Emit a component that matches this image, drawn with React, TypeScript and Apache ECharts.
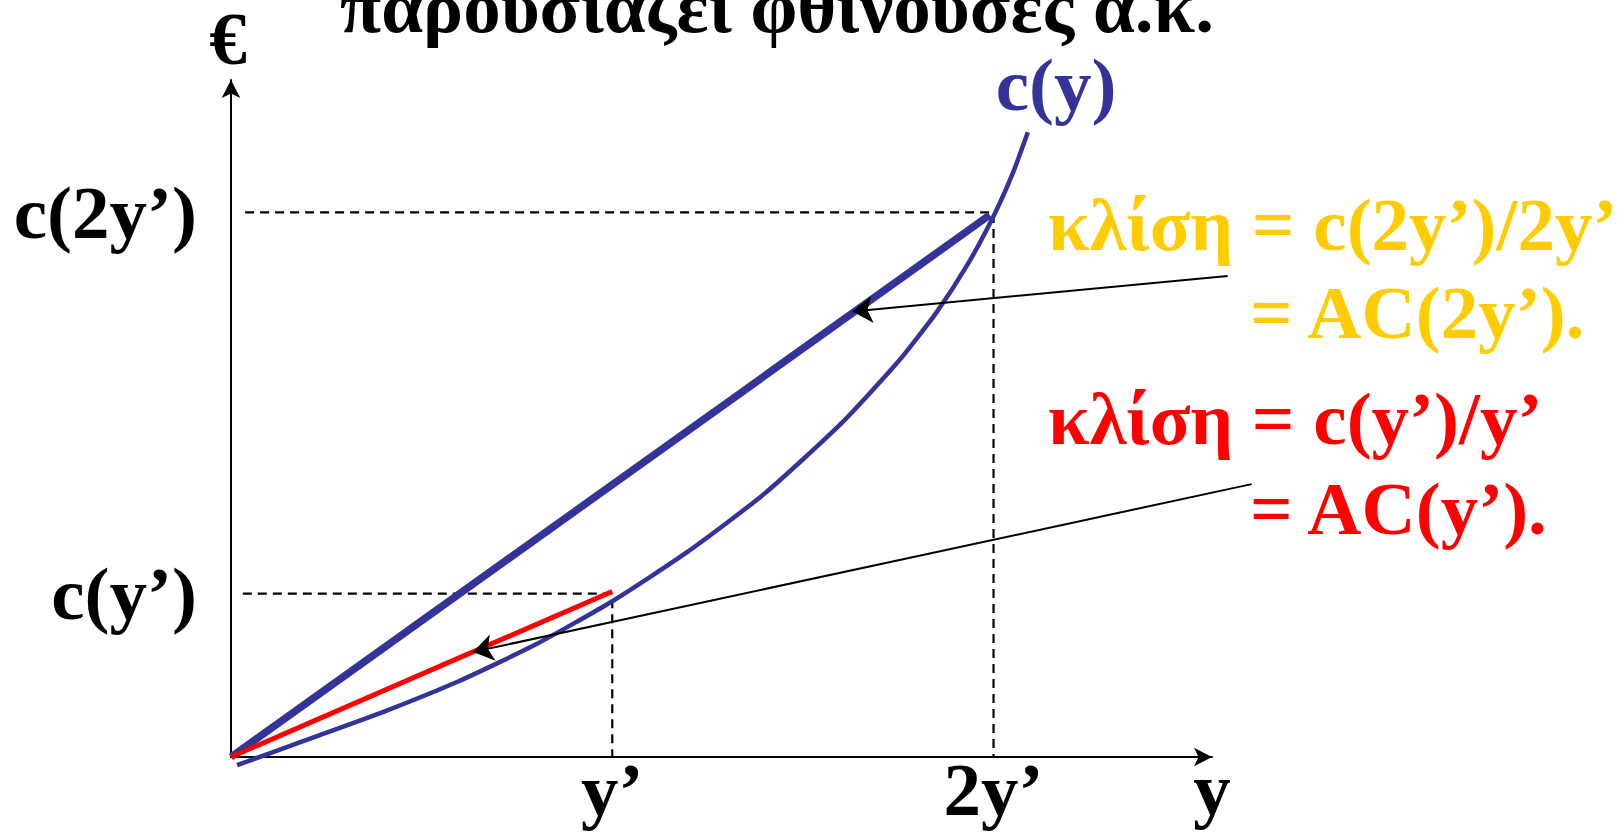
import React, { useEffect, useRef } from "react";
import * as echarts from "echarts";

const FONT = '"Liberation Serif", "Times New Roman", serif';
const BLUE = "#333399";
const RED = "#FF0000";
const GOLD = "#FFCC00";
const FONT_SIZE = 75;

// Output axis in units of y', cost axis in cost units
const X_MAX = 2.573;
const Y_MAX = 12.43;

// Total cost curve c(y)
const costCurveX = [0.016, 0.2, 0.4, 0.6, 0.8, 1.0, 1.2, 1.4, 1.6, 1.75, 1.85, 1.93, 2.0, 2.05, 2.09];
const costCurveY = [-0.15, 0.32, 0.83, 1.4, 2.07, 2.86, 3.78, 4.84, 6.12, 7.26, 8.16, 9.02, 9.93, 10.71, 11.47];

// Marked outputs and their costs
const outputMarks = [1, 2];
const outputLabels = ["y’", "2y’"];
const costMarks = [3, 10];
const costLabels = ["c(y’)", "c(2y’)"];

// Rays from the origin whose slopes are the average costs
const rayY1 = [[0, 0], [1, 3.04]];
const rayY2 = [[0, 0], [1.99, 9.95]];

// Pointer lines from the captions to the rays: [tail, tip]
const pointerAC2 = [[2.614, 8.83], [1.63, 8.18]];
const pointerAC1 = [[2.677, 5.01], [0.635, 1.93]];

const GRID = { left: 231, top: 80, width: 981, height: 677 };

function text(
  t: string,
  x: number,
  y: number,
  fill: string,
  align: string = "left",
  lineHeight: number = FONT_SIZE
) {
  return {
    type: "text",
    x,
    y,
    silent: true,
    style: {
      text: t,
      fill,
      fontFamily: FONT,
      fontWeight: "bold",
      fontSize: FONT_SIZE,
      lineHeight,
      align,
      verticalAlign: "middle",
    },
  };
}

const labelStyle = {
  color: "#000",
  fontFamily: FONT,
  fontWeight: "bold",
  fontSize: FONT_SIZE,
  lineHeight: FONT_SIZE,
};

export default function App() {
  const ref = useRef<HTMLDivElement>(null);

  useEffect(() => {
    document.body.style.margin = "0";
    const chart = echarts.init(ref.current!, null, { renderer: "svg" });

    const curve = costCurveX.map((x, i) => [x, costCurveY[i]]);
    const guides = outputMarks.map((x, i) => ({
      type: "line",
      data: [[i === 0 ? 0.031 : 0.037, costMarks[i]], [x, costMarks[i]], [x, 0]],
      showSymbol: false,
      silent: true,
      clip: false,
      lineStyle: { color: "#000", width: 2.2, type: [9, 6] },
      z: 1,
    }));

    chart.setOption({
      animation: false,
      grid: { ...GRID, containLabel: false },
      xAxis: {
        type: "value",
        min: 0,
        max: X_MAX,
        interval: 1,
        splitLine: { show: false },
        axisTick: { show: false },
        axisLine: {
          show: true,
          onZero: false,
          symbol: ["none", "arrow"],
          symbolSize: [14, 18],
          lineStyle: { color: "#000", width: 2 },
        },
        axisLabel: {
          ...labelStyle,
          show: true,
          interval: 0,
          showMaxLabel: false,
          margin: -5,
          formatter: (v: number) => {
            const k = outputMarks.indexOf(Math.round(v * 1000) / 1000);
            return k >= 0 ? outputLabels[k] : "";
          },
        },
      },
      yAxis: {
        type: "value",
        min: 0,
        max: Y_MAX,
        interval: 1,
        splitLine: { show: false },
        axisTick: { show: false },
        axisLine: {
          show: true,
          onZero: false,
          symbol: ["none", "arrow"],
          symbolSize: [14, 18],
          lineStyle: { color: "#000", width: 2 },
        },
        axisLabel: {
          ...labelStyle,
          show: true,
          interval: 0,
          showMaxLabel: false,
          margin: 34,
          padding: [4, 0, 0, 0],
          formatter: (v: number) => {
            const k = costMarks.indexOf(Math.round(v * 1000) / 1000);
            return k >= 0 ? costLabels[k] : "";
          },
        },
      },
      series: [
        ...guides,
        {
          type: "line",
          name: "c(y)",
          data: curve,
          smooth: 0.2,
          showSymbol: false,
          silent: true,
          clip: false,
          lineStyle: { color: BLUE, width: 4.5 },
          z: 3,
        },
        {
          type: "line",
          data: rayY2,
          showSymbol: false,
          silent: true,
          clip: false,
          lineStyle: { color: BLUE, width: 7.5, cap: "butt" },
          z: 4,
        },
        {
          type: "line",
          data: rayY1,
          showSymbol: false,
          silent: true,
          clip: false,
          lineStyle: { color: RED, width: 5, cap: "butt" },
          z: 4,
        },
        {
          type: "lines",
          coordinateSystem: "cartesian2d",
          silent: true,
          clip: false,
          z: 5,
          symbol: ["none", "arrow"],
          symbolSize: [14, 20],
          lineStyle: { color: "#000", width: 2, opacity: 1, curveness: 0 },
          data: [{ coords: pointerAC2 }, { coords: pointerAC1 }],
        },
      ],
      graphic: [
        text("παρουσιάζει φθίνουσες α.κ.", 777, 6, "#000", "center"),
        text("€", 228, 38, "#000", "center", 56),
        text("c(y)", 1056, 84, BLUE, "center"),
        text("κλίση = c(2y’)/2y’", 1048, 224, GOLD),
        text("= AC(2y’).", 1250, 312, GOLD),
        text("κλίση = c(y’)/y’", 1048, 418, RED),
        text("= AC(y’).", 1250, 508, RED),
        text("y", 1212, 788, "#000", "center"),
      ],
    });

    return () => chart.dispose();
  }, []);

  return <div ref={ref} style={{ width: 1624, height: 833 }} />;
}
